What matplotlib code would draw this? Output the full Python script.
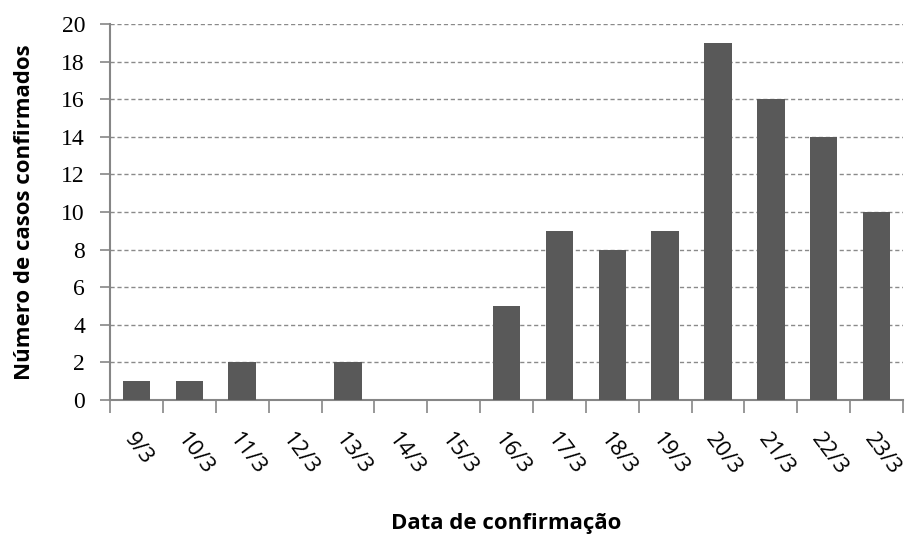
import matplotlib
matplotlib.use("Agg")
import matplotlib.pyplot as plt
import numpy as np

categories = ["9/3", "10/3", "11/3", "12/3", "13/3", "14/3", "15/3", "16/3",
              "17/3", "18/3", "19/3", "20/3", "21/3", "22/3", "23/3"]
casos = [1, 1, 2, 0, 2, 0, 0, 5, 9, 8, 9, 19, 16, 14, 10]
yticks = list(range(0, 21, 2))

fig = plt.figure(figsize=(9.14, 5.35), dpi=100)
ax = fig.add_axes([0.1204, 0.2523, 0.8676, 0.7028])

x = np.arange(len(categories))
ax.bar(x, casos, width=0.52, color="#595959", zorder=3)

ax.set_xlim(-0.5, len(categories) - 0.5)
ax.set_ylim(0, 20)
ax.set_yticks(yticks)
ax.set_yticklabels([str(v) for v in yticks], fontfamily="Liberation Serif", fontsize=17)
ax.yaxis.grid(True, linestyle=(0, (3, 2)), color="#8a8a8a", linewidth=1, zorder=0)
ax.tick_params(axis="y", direction="out", length=7, color="#868686", width=1.2, pad=11)

ax.set_xticks(x)
ax.set_xticklabels(categories, rotation=-53, ha="left", va="top", rotation_mode="anchor",
                   fontfamily="Open Sans", fontsize=16)
ax.tick_params(axis="x", which="major", length=0, pad=21)
ax.set_xticks(np.arange(-0.5, len(categories)), minor=True)
ax.tick_params(axis="x", which="minor", direction="out", length=9, color="#868686", width=1.2)

for s in ["top", "right"]:
    ax.spines[s].set_visible(False)
for s in ["left", "bottom"]:
    ax.spines[s].set_color("#868686")
    ax.spines[s].set_linewidth(1.5)

ax.set_xlabel("Data de confirmação", fontfamily="Open Sans", fontweight="bold", fontsize=16, labelpad=25)
ax.set_ylabel("Número de casos confirmados", fontfamily="Open Sans", fontweight="bold", fontsize=16, labelpad=19)

fig.savefig("out.png", dpi=100, facecolor="white")
